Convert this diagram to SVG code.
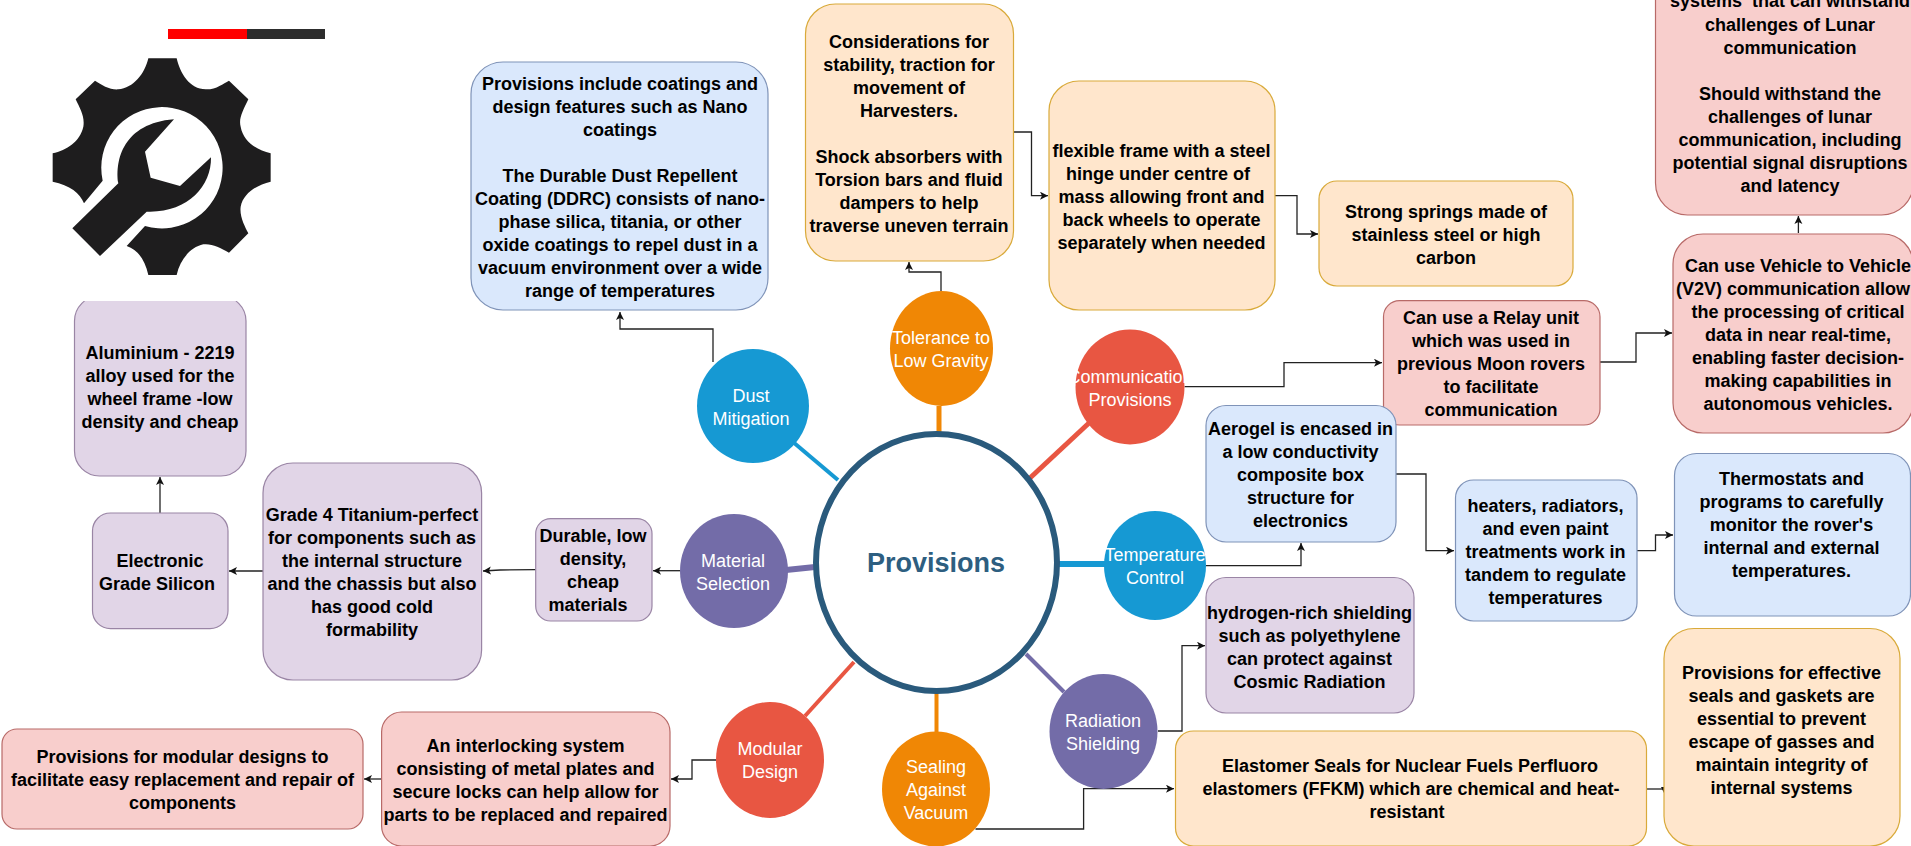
<svg xmlns="http://www.w3.org/2000/svg" width="1911" height="846" viewBox="0 0 1911 846">
<style>
text{font-family:"Liberation Sans",Arial,sans-serif;text-anchor:middle;font-size:18px}
.t text,text.t{font-weight:bold;fill:#000}
.w{fill:#fff;font-weight:normal}
.b{fill:#dae8fc;stroke:#7f93b8;stroke-width:1.2}
.o{fill:#ffe6cc;stroke:#d9aa3a;stroke-width:1.2}
.r{fill:#f8cecc;stroke:#b86a68;stroke-width:1.2}
.p{fill:#e1d5e7;stroke:#9a85a5;stroke-width:1.2}
.c{fill:none;stroke:#222;stroke-width:1.3;marker-end:url(#a)}
.s{fill:none}
</style>
<defs><marker id="a" markerUnits="userSpaceOnUse" markerWidth="9" markerHeight="9" refX="8" refY="4" orient="auto"><path d="M0,0L8,4L0,8L2,4Z" fill="#111"/></marker></defs>
<rect width="1911" height="846" fill="#fff"/>
<g id="spokes" class="s">
<path d="M838,480L793,442" stroke="#1699d3" stroke-width="4"/>
<path d="M939,406V433" stroke="#f08705" stroke-width="5"/>
<path d="M1089,423L1030,478" stroke="#e85642" stroke-width="5"/>
<path d="M1058,564H1106" stroke="#1699d3" stroke-width="6"/>
<path d="M1026,654L1064,692" stroke="#736ca8" stroke-width="4"/>
<path d="M936.5,692V733" stroke="#f08705" stroke-width="4"/>
<path d="M854,662L805,716" stroke="#e85642" stroke-width="4"/>
<path d="M815,567L786,570" stroke="#736ca8" stroke-width="6"/>
</g>
<g id="connectors">
<path class="c" d="M713,362V329H620V312"/>
<path class="c" d="M941,291V272H909V262"/>
<path class="c" d="M1014,132H1031.500V195.700H1048"/>
<path class="c" d="M1275,195.700H1297V234H1318"/>
<path class="c" d="M1184.600,386.700H1284V362.700H1382"/>
<path class="c" d="M1600,362H1636V333H1672"/>
<path class="c" d="M1798.400,233V216"/>
<path class="c" d="M1206,565.700H1301V543"/>
<path class="c" d="M1396,474H1426V550.700H1454"/>
<path class="c" d="M1637,550.700H1655.500V535H1673"/>
<path class="c" d="M1158,731H1182V645.700H1205"/>
<path class="c" d="M975.500,829H1083.600V788.700H1174"/>
<path d="M1647,789H1665" fill="none" stroke="#222" stroke-width="1.300"/>
<path d="M1661,787H1669L1665,795Z" fill="#111"/>
<path class="c" d="M680,570.700H653"/>
<path class="c" d="M535.700,569.700L500,570L483,571"/>
<path class="c" d="M263,571H229"/>
<path class="c" d="M160,513V477"/>
<path class="c" d="M381.600,779H364"/>
<path class="c" d="M716,760H692V779H671"/>
</g>
<g id="box-aluminium" class="t"><rect class="p" x="74.500" y="296" width="171.500" height="180" rx="25"/><text><tspan x="160" y="359">Aluminium - 2219</tspan><tspan x="160" y="382">alloy used for the</tspan><tspan x="160" y="405">wheel frame -low</tspan><tspan x="160" y="428">density and cheap</tspan></text></g>
<g id="icon">
<rect x="40" y="44" width="270" height="257" fill="#fff"/>
<rect x="168" y="29" width="79" height="10" fill="#f00"/><rect x="247" y="29" width="78" height="10" fill="#2d2d2d"/>
<g transform="translate(30,10) scale(.33333)" fill="#1e1d1e">
<path d="M355,145L440,145C450,190 480,240 530,238C560,238 580,220 597,212L655,268C640,300 625,325 632,350C640,395 680,420 722,430L722,515C680,525 640,550 632,590C628,620 645,650 655,670L597,728C570,712 545,700 520,703C480,712 450,750 440,795L355,795C345,750 325,720 290,708L345,648A182,182 0 1 0 218,512L162,580C150,550 120,525 68,515L68,430C110,420 150,395 160,350C165,320 150,295 137,268L195,212C215,225 240,240 265,238C310,235 345,190 355,145Z"/>
<path d="M127,655L265,520C255,450 280,340 432,328L345,425L362,503L450,528L543,442C545,530 470,610 350,605L210,738Z"/>
</g></g>
<g id="box-dust" class="t"><rect class="b" x="471" y="62" width="297" height="248" rx="32"/><text><tspan x="620" y="90">Provisions include coatings and</tspan><tspan x="620" y="113">design features such as Nano</tspan><tspan x="620" y="136">coatings</tspan><tspan x="620" y="182">The Durable Dust Repellent</tspan><tspan x="620" y="205">Coating (DDRC) consists of nano-</tspan><tspan x="620" y="228">phase silica, titania, or other</tspan><tspan x="620" y="251">oxide coatings to repel dust in a</tspan><tspan x="620" y="274">vacuum environment over a wide</tspan><tspan x="620" y="297">range of temperatures</tspan></text></g>
<g id="box-considerations" class="t"><rect class="o" x="805.500" y="4" width="208" height="257" rx="30"/><text><tspan x="909" y="48">Considerations for</tspan><tspan x="909" y="71">stability, traction for</tspan><tspan x="909" y="94">movement of</tspan><tspan x="909" y="117">Harvesters.</tspan><tspan x="909" y="162.500">Shock absorbers with</tspan><tspan x="909" y="185.500">Torsion bars and fluid</tspan><tspan x="909" y="208.500">dampers to help</tspan><tspan x="909" y="231.500">traverse uneven terrain</tspan></text></g>
<g id="box-flexible" class="t"><rect class="o" x="1049" y="81" width="226" height="229" rx="30"/><text><tspan x="1161.500" y="157">flexible frame with a steel</tspan><tspan x="1158" y="180">hinge under centre of</tspan><tspan x="1161.500" y="203">mass allowing front and</tspan><tspan x="1161.500" y="226">back wheels to operate</tspan><tspan x="1161.500" y="249">separately when needed</tspan></text></g>
<g id="box-springs" class="t"><rect class="o" x="1319" y="181" width="254" height="105" rx="18"/><text><tspan x="1446" y="218">Strong springs made of</tspan><tspan x="1446" y="241">stainless steel or high</tspan><tspan x="1446" y="264">carbon</tspan></text></g>
<g id="box-relay" class="t"><rect class="r" x="1383.500" y="300.700" width="216.500" height="124.300" rx="16"/><text><tspan x="1491" y="324">Can use a Relay unit</tspan><tspan x="1491" y="347">which was used in</tspan><tspan x="1491" y="370">previous Moon rovers</tspan><tspan x="1491" y="393">to facilitate</tspan><tspan x="1491" y="416">communication</tspan></text></g>
<g id="box-systems" class="t"><rect class="r" x="1655.500" y="-60" width="258" height="275" rx="32"/><text><tspan x="1790" y="7" style="white-space:pre">systems  that can withstand</tspan><tspan x="1790" y="30.500">challenges of Lunar</tspan><tspan x="1790" y="53.500">communication</tspan><tspan x="1790" y="99.500">Should withstand the</tspan><tspan x="1790" y="122.500">challenges of lunar</tspan><tspan x="1790" y="145.500">communication, including</tspan><tspan x="1790" y="168.500">potential signal disruptions</tspan><tspan x="1790" y="191.500">and latency</tspan></text></g>
<g id="box-v2v" class="t"><rect class="r" x="1673" y="234" width="240" height="199" rx="30"/><text><tspan x="1798" y="271.500">Can use Vehicle to Vehicle</tspan><tspan x="1793" y="294.500">(V2V) communication allow</tspan><tspan x="1798" y="317.500">the processing of critical</tspan><tspan x="1798" y="340.500">data in near real-time,</tspan><tspan x="1798" y="363.500">enabling faster decision-</tspan><tspan x="1798" y="386.500">making capabilities in</tspan><tspan x="1798" y="409.500">autonomous vehicles.</tspan></text></g>
<g id="box-aerogel" class="t"><rect class="b" x="1206" y="405.500" width="190" height="136.500" rx="20"/><text><tspan x="1300.500" y="435">Aerogel is encased in</tspan><tspan x="1300.500" y="458">a low conductivity</tspan><tspan x="1300.500" y="481">composite box</tspan><tspan x="1300.500" y="504">structure for</tspan><tspan x="1300.500" y="527">electronics</tspan></text></g>
<g id="box-heaters" class="t"><rect class="b" x="1455.500" y="480" width="181.500" height="141" rx="18"/><text><tspan x="1545.500" y="512">heaters, radiators,</tspan><tspan x="1545.500" y="535">and even paint</tspan><tspan x="1545.500" y="558">treatments work in</tspan><tspan x="1545.500" y="581">tandem to regulate</tspan><tspan x="1545.500" y="604">temperatures</tspan></text></g>
<g id="box-thermostats" class="t"><rect class="b" x="1674.500" y="453.500" width="236" height="162.500" rx="22"/><text><tspan x="1791.500" y="485">Thermostats and</tspan><tspan x="1791.500" y="508">programs to carefully</tspan><tspan x="1791.500" y="531">monitor the rover's</tspan><tspan x="1791.500" y="554">internal and external</tspan><tspan x="1791.500" y="577">temperatures.</tspan></text></g>
<g id="box-hydrogen" class="t"><rect class="p" x="1206" y="577.500" width="208" height="135.500" rx="20"/><text><tspan x="1309.500" y="619">hydrogen-rich shielding</tspan><tspan x="1309.500" y="642">such as polyethylene</tspan><tspan x="1309.500" y="665">can protect against</tspan><tspan x="1309.500" y="688">Cosmic Radiation</tspan></text></g>
<g id="box-elastomer" class="t"><rect class="o" x="1175.500" y="731" width="471" height="115" rx="18"/><text><tspan x="1410" y="772">Elastomer Seals for Nuclear Fuels Perfluoro</tspan><tspan x="1411" y="795">elastomers (FFKM) which are chemical and heat-</tspan><tspan x="1407" y="818">resistant</tspan></text></g>
<g id="box-seals" class="t"><rect class="o" x="1664" y="628.500" width="236" height="217.500" rx="30"/><text><tspan x="1781.500" y="679">Provisions for effective</tspan><tspan x="1781.500" y="702">seals and gaskets are</tspan><tspan x="1781.500" y="725">essential to prevent</tspan><tspan x="1781.500" y="748">escape of gasses and</tspan><tspan x="1781.500" y="771">maintain integrity of</tspan><tspan x="1781.500" y="794">internal systems</tspan></text></g>
<g id="box-durable" class="t"><rect class="p" x="535.700" y="518.700" width="116.300" height="102.300" rx="15"/><text><tspan x="593" y="542">Durable, low</tspan><tspan x="593" y="565">density,</tspan><tspan x="593" y="588">cheap</tspan><tspan x="588" y="611">materials</tspan></text></g>
<g id="box-grade" class="t"><rect class="p" x="263" y="463" width="218.600" height="217" rx="30"/><text><tspan x="372" y="521">Grade 4 Titanium-perfect</tspan><tspan x="372" y="544">for components such as</tspan><tspan x="372" y="567">the internal structure</tspan><tspan x="372" y="590">and the chassis but also</tspan><tspan x="372" y="613">has good cold</tspan><tspan x="372" y="636">formability</tspan></text></g>
<g id="box-electronic" class="t"><rect class="p" x="92.500" y="513" width="135.500" height="115.700" rx="18"/><text><tspan x="160" y="567">Electronic</tspan><tspan x="157" y="590">Grade Silicon</tspan></text></g>
<g id="box-interlock" class="t"><rect class="r" x="381.600" y="712" width="288.400" height="134" rx="20"/><text><tspan x="525.500" y="752">An interlocking system</tspan><tspan x="525.500" y="775">consisting of metal plates and</tspan><tspan x="525.500" y="798">secure locks can help allow for</tspan><tspan x="525.500" y="821">parts to be replaced and repaired</tspan></text></g>
<g id="box-modular" class="t"><rect class="r" x="2" y="729" width="361" height="100" rx="15"/><text><tspan x="182.500" y="763">Provisions for modular designs to</tspan><tspan x="182.500" y="786">facilitate easy replacement and repair of</tspan><tspan x="182.500" y="809">components</tspan></text></g>
<g id="node-provisions"><ellipse cx="936.500" cy="562.500" rx="120.500" ry="128.500" fill="#fff" stroke="#2a5a7c" stroke-width="6"/><text x="936" y="572" style="font-size:27px;font-weight:bold;fill:#2d5e80">Provisions</text></g>
<g id="node-dust"><ellipse cx="753" cy="406" rx="56" ry="57" fill="#1699d3"/><text class="w"><tspan x="751" y="402">Dust</tspan><tspan x="751" y="425">Mitigation</tspan></text></g>
<g id="node-tolerance"><ellipse cx="941.500" cy="348.500" rx="51.500" ry="57.500" fill="#f08705"/><text class="w"><tspan x="941" y="344">Tolerance to</tspan><tspan x="941" y="367">Low Gravity</tspan></text></g>
<g id="node-communication"><ellipse cx="1130" cy="387" rx="54.500" ry="57.500" fill="#e85642"/><text class="w"><tspan x="1130" y="382.700">Communication</tspan><tspan x="1130" y="405.700">Provisions</tspan></text></g>
<g id="node-temperature"><ellipse cx="1155" cy="565.500" rx="51" ry="54.500" fill="#1699d3"/><text class="w"><tspan x="1155" y="561">Temperature</tspan><tspan x="1155" y="584">Control</tspan></text></g>
<g id="node-radiation"><ellipse cx="1103.500" cy="731.500" rx="54" ry="57.500" fill="#736ca8"/><text class="w"><tspan x="1103" y="727">Radiation</tspan><tspan x="1103" y="750">Shielding</tspan></text></g>
<g id="node-sealing"><ellipse cx="936" cy="789" rx="54" ry="57.500" fill="#f08705"/><text class="w"><tspan x="936" y="773">Sealing</tspan><tspan x="936" y="796">Against</tspan><tspan x="936" y="819">Vacuum</tspan></text></g>
<g id="node-modular"><ellipse cx="770" cy="760" rx="54" ry="58" fill="#e85642"/><text class="w"><tspan x="770" y="755">Modular</tspan><tspan x="770" y="778">Design</tspan></text></g>
<g id="node-material"><ellipse cx="734" cy="571" rx="54" ry="57" fill="#736ca8"/><text class="w"><tspan x="733" y="567">Material</tspan><tspan x="733" y="590">Selection</tspan></text></g>
</svg>
